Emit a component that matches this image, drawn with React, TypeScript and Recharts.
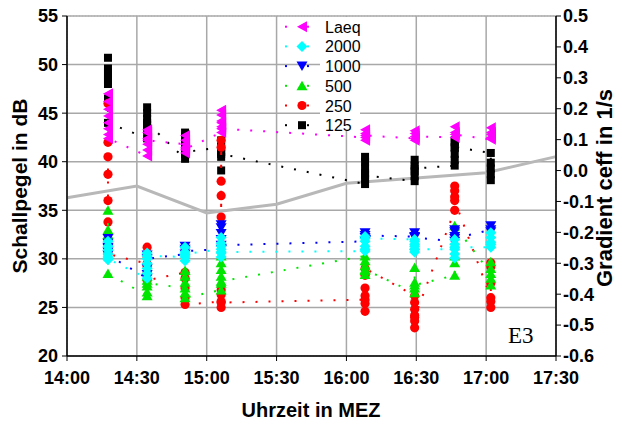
import React from 'react';
import { ComposedChart, Scatter, Line, XAxis, YAxis, CartesianGrid } from 'recharts';

// measurement blocks, minutes after 14:00
const clusterTimes = [17.6, 34.4, 50.7, 66.2, 128, 149.3, 166.5, 182];

// one inner array per measurement block, values in dB
const laeq = [
  [47.0, 46.2, 45.4, 44.7, 44.0, 43.4, 42.8, 42.4],
  [40.6, 41.2, 41.8, 42.4, 43.0, 43.3, 42.2],
  [41.8, 41.2, 40.9, 41.5, 42.2, 42.7, 41.3],
  [43.0, 43.6, 44.2, 44.8, 45.3, 44.0, 43.4],
  [42.5, 42.9, 43.3, 42.2, 42.7],
  [42.4, 42.9, 43.2, 42.2, 42.6],
  [42.5, 43.0, 43.6, 42.8],
  [42.3, 42.8, 43.5, 43.0, 42.5],
];
const band2000 = [
  [31.8, 31.3, 30.9, 30.5, 30.2, 29.9, 30.0],
  [28.0, 28.5, 29.0, 29.5, 30.0, 30.6, 30.3],
  [30.2, 30.7, 31.2, 30.4, 29.8, 30.5],
  [31.0, 31.6, 32.2, 31.3, 30.6, 30.2, 30.7],
  [30.8, 31.3, 31.8, 32.3, 31.0, 32.1],
  [32.0, 31.5, 31.0, 30.7, 31.3, 31.8, 31.0],
  [31.0, 30.5, 30.1, 31.5, 32.0, 31.2],
  [31.2, 31.7, 32.2, 32.7, 31.5],
];
const band1000 = [
  [32.1, 31.6, 31.1, 30.7, 31.2, 30.4],
  [28.0, 28.4, 29.0, 30.4, 30.0],
  [30.5, 31.0, 31.3, 30.8],
  [31.0, 32.0, 32.6, 33.2, 33.5, 31.4],
  [31.8, 32.2, 32.7, 32.4],
  [32.3, 32.7, 32.2],
  [31.8, 32.3, 32.8, 33.0, 32.1],
  [33.0, 33.4, 32.8],
];
const band500 = [
  [35.0, 33.0, 32.5, 28.5],
  [26.2, 26.6, 27.2, 27.8, 28.2, 27.5],
  [27.0, 27.6, 28.2, 28.8, 26.5, 26.0],
  [26.8, 27.5, 28.2, 28.9, 29.6, 30.3, 27.7],
  [30.3, 29.8, 29.3, 28.8, 28.4, 28.9],
  [26.5, 27.0, 27.6, 29.1, 27.3],
  [28.3, 29.6, 30.3, 33.4],
  [28.5, 27.3, 28.0, 29.0, 29.7],
];
const band250 = [
  [46.0, 42.0, 40.5, 38.7, 36.0, 33.8, 30.5],
  [29.5, 30.2, 31.2, 29.2, 28.5, 27.8],
  [28.6, 28.0, 27.0, 26.0, 25.3],
  [25.6, 26.3, 42.2, 41.5, 38.0, 36.5, 34.3, 26.8, 25.0, 25.5],
  [25.8, 24.6, 25.4, 26.2, 27.0, 28.3, 29.0],
  [26.2, 25.5, 24.8, 24.2, 23.6, 22.9, 24.0],
  [35.0, 36.4, 37.0, 37.5, 36.0],
  [26.0, 25.0, 25.6, 27.5, 29.6, 29.2],
];
const band125 = [
  [50.7, 49.6, 49.2, 48.8, 48.4, 48.0, 46.5, 44.0],
  [42.4, 43.2, 43.8, 44.4, 45.0, 45.6, 44.0],
  [40.3, 40.8, 41.4, 42.0, 42.6, 43.0, 41.0],
  [41.5, 42.2, 41.0, 40.5, 39.1, 40.8],
  [37.7, 38.2, 38.8, 39.3, 40.0, 40.5, 38.6],
  [38.0, 38.5, 39.0, 39.6, 40.2, 39.3],
  [39.6, 40.2, 40.8, 41.4, 42.0, 42.2, 41.5],
  [40.9, 39.9, 39.3, 38.7, 38.1],
];

// gradient ceff (right axis)
const gradTimes = [0, 30, 60, 90, 120, 150, 180, 210];
const gradValues = [-0.088, -0.05, -0.137, -0.109, -0.041, -0.024, -0.007, 0.045];

const timeTicks = [0, 30, 60, 90, 120, 150, 180, 210];
const timeLabels = ['14:00', '14:30', '15:00', '15:30', '16:00', '16:30', '17:00', '17:30'];
const minorTimeTicks = [0, 15, 30, 45, 60, 75, 90, 105, 120, 135, 150, 165, 180, 195, 210];
const dbTicks = [20, 25, 30, 35, 40, 45, 50, 55];
const minorDbTicks = [
  20, 21, 22, 23, 24, 25, 26, 27, 28, 29, 30, 31, 32, 33, 34, 35, 36, 37,
  38, 39, 40, 41, 42, 43, 44, 45, 46, 47, 48, 49, 50, 51, 52, 53, 54, 55,
];
const gradTicks = [-0.6, -0.5, -0.4, -0.3, -0.2, -0.1, 0, 0.1, 0.2, 0.3, 0.4, 0.5];
const minorGradTicks = [-0.55, -0.45, -0.35, -0.25, -0.15, -0.05, 0.05, 0.15, 0.25, 0.35, 0.45];

const toPoints = (groups: number[][]) =>
  groups.flatMap((vals, i) => vals.map((v) => ({ x: clusterTimes[i], y: v })));

const gradData = gradTimes.map((x, i) => ({ x, g: gradValues[i] }));

type Kind = 'left' | 'diamond' | 'down' | 'up' | 'circle' | 'square';

const series: { name: string; data: number[][]; color: string; kind: Kind }[] = [
  { name: '125', data: band125, color: '#000000', kind: 'square' },
  { name: '250', data: band250, color: '#ff0000', kind: 'circle' },
  { name: '500', data: band500, color: '#00e600', kind: 'up' },
  { name: '1000', data: band1000, color: '#0000ff', kind: 'down' },
  { name: '2000', data: band2000, color: '#00ffff', kind: 'diamond' },
  { name: 'Laeq', data: laeq, color: '#ff00ff', kind: 'left' },
];

const Marker = ({ cx, cy, kind, color }: { cx: number; cy: number; kind: Kind; color: string }) => {
  if (cx == null || cy == null) return null;
  switch (kind) {
    case 'left':
      return <polygon points={`${cx - 5},${cy} ${cx + 5},${cy - 5.5} ${cx + 5},${cy + 5.5}`} fill={color} />;
    case 'diamond':
      return <polygon points={`${cx},${cy - 5.5} ${cx + 5.5},${cy} ${cx},${cy + 5.5} ${cx - 5.5},${cy}`} fill={color} />;
    case 'down':
      return <polygon points={`${cx - 5.5},${cy - 4.5} ${cx + 5.5},${cy - 4.5} ${cx},${cy + 5}`} fill={color} />;
    case 'up':
      return <polygon points={`${cx - 5.5},${cy + 4.5} ${cx + 5.5},${cy + 4.5} ${cx},${cy - 5}`} fill={color} />;
    case 'circle':
      return <circle cx={cx} cy={cy} r={4.6} fill={color} />;
    default:
      return <rect x={cx - 4} y={cy - 4} width={8} height={8} fill={color} />;
  }
};

const tickFont = { fill: '#000', fontSize: 18, fontWeight: 'bold', fontFamily: 'Liberation Sans, Arial, sans-serif' };
const titleFont = { fontWeight: 'bold', fontFamily: 'Liberation Sans, Arial, sans-serif' } as const;

const legendOrder = ['Laeq', '2000', '1000', '500', '250', '125'];

export default function App() {
  return (
    <div style={{ position: 'absolute', left: 0, top: 0, width: 622, height: 425, background: '#fff' }}>
      <ComposedChart width={622} height={425} margin={{ top: 16, right: 0, bottom: 0, left: 0 }}>
        {/* minor axes: only short tick marks, plus the dotted grid */}
        <XAxis
          xAxisId="minor"
          type="number"
          dataKey="x"
          domain={[0, 210]}
          ticks={minorTimeTicks}
          height={0}
          tick={false}
          axisLine={false}
          tickSize={3}
          tickLine={{ stroke: '#000' }}
        />
        <YAxis
          yAxisId="minor"
          type="number"
          domain={[20, 55]}
          ticks={minorDbTicks}
          width={0}
          tick={false}
          axisLine={false}
          tickSize={3}
          tickLine={{ stroke: '#000' }}
        />
        <YAxis
          yAxisId="gminor"
          orientation="right"
          type="number"
          domain={[-0.6, 0.5]}
          ticks={minorGradTicks}
          width={0}
          tick={false}
          axisLine={false}
          tickSize={3}
          tickLine={{ stroke: '#000' }}
        />
        <CartesianGrid xAxisId="minor" yAxisId="minor" stroke="#c8c8c8" strokeDasharray="1 2" />
        <CartesianGrid xAxisId="t" yAxisId="db" stroke="#a8a8a8" strokeWidth={1.5} />

        <XAxis
          xAxisId="t"
          type="number"
          dataKey="x"
          domain={[0, 210]}
          ticks={timeTicks}
          tickFormatter={(v) => timeLabels[timeTicks.indexOf(v)]}
          height={69}
          tickSize={5}
          tickMargin={10}
          tick={tickFont}
          axisLine={{ stroke: '#000', strokeWidth: 1.5 }}
          tickLine={{ stroke: '#000' }}
        />
        <XAxis xAxisId="top" orientation="top" type="number" domain={[0, 210]} height={0} tick={false} axisLine={{ stroke: '#000', strokeWidth: 1.5 }} />
        <YAxis
          yAxisId="db"
          type="number"
          domain={[20, 55]}
          ticks={dbTicks}
          width={67}
          tickSize={5}
          tickMargin={4}
          tick={tickFont}
          axisLine={{ stroke: '#000', strokeWidth: 1.5 }}
          tickLine={{ stroke: '#000' }}
        />
        <YAxis
          yAxisId="g"
          orientation="right"
          type="number"
          domain={[-0.6, 0.5]}
          ticks={gradTicks}
          tickFormatter={(v) => v.toFixed(1)}
          width={66}
          tickSize={5}
          tickMargin={2}
          tick={tickFont}
          axisLine={{ stroke: '#000', strokeWidth: 1.5 }}
          tickLine={{ stroke: '#000' }}
        />

        <Line
          xAxisId="t"
          yAxisId="g"
          data={gradData}
          dataKey="g"
          type="linear"
          stroke="#b8b8b8"
          strokeWidth={3}
          dot={false}
          isAnimationActive={false}
        />

        {series.map((s) => (
          <Scatter
            key={s.name}
            name={s.name}
            xAxisId="t"
            yAxisId="db"
            data={toPoints(s.data)}
            dataKey="y"
            fill={s.color}
            line={{ stroke: s.color, strokeWidth: 2, strokeDasharray: '2 11' }}
            lineType="joint"
            shape={(p: any) => <Marker cx={p.cx} cy={p.cy} kind={s.kind} color={s.color} />}
            isAnimationActive={false}
          />
        ))}
      </ComposedChart>

      <svg width={622} height={425} style={{ position: 'absolute', left: 0, top: 0, pointerEvents: 'none' }}>
        <rect x={320} y={17} width={40} height={114} fill="#fff" />
        {legendOrder.map((name, i) => {
          const s = series.find((d) => d.name === name)!;
          const y = 26.7 + i * 19.7;
          return (
            <g key={name}>
              <rect x={285} y={y - 1} width={2} height={2} fill={s.color} />
              <rect x={307} y={y - 1} width={2} height={2} fill={s.color} />
              <Marker cx={302} cy={y} kind={s.kind} color={s.color} />
              <text x={325} y={y + 6} fontSize={16} fontFamily="Liberation Sans, Arial, sans-serif" fill="#000">
                {name}
              </text>
            </g>
          );
        })}
        <text x={508} y={343} fontSize={23} fontFamily="Liberation Serif, Times New Roman, serif" fill="#000">
          E3
        </text>
        <text x={311} y={417} textAnchor="middle" fill="#000" fontSize={20} {...titleFont}>
          Uhrzeit in MEZ
        </text>
        <text x={27} y={186} textAnchor="middle" fill="#000" fontSize={21} transform="rotate(-90 27 186)" {...titleFont}>
          Schallpegel in dB
        </text>
        <text x={612} y={188} textAnchor="middle" fill="#000" fontSize={22} transform="rotate(-90 612 188)" {...titleFont}>
          Gradient ceff in 1/s
        </text>
      </svg>
    </div>
  );
}
